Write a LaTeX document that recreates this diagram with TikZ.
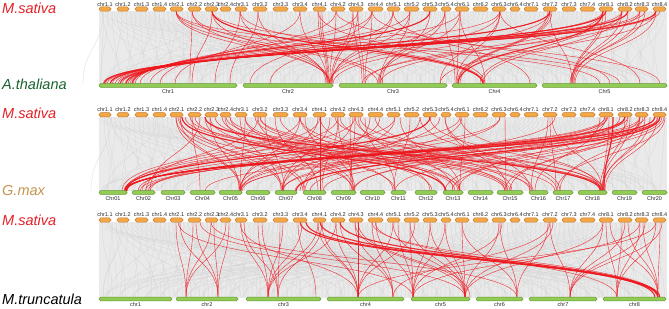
\documentclass[tikz,border=0pt]{standalone}
\usepackage{fontspec}
\setmainfont{Liberation Sans}
\definecolor{msred}{RGB}{228,32,40}
\definecolor{atgreen}{RGB}{28,98,48}
\definecolor{gmtan}{RGB}{196,150,80}
\definecolor{of}{RGB}{243,168,72}
\definecolor{ob}{RGB}{196,120,40}
\definecolor{gf}{RGB}{146,204,84}
\definecolor{gb}{RGB}{100,152,52}
\definecolor{lred}{RGB}{238,24,30}
\definecolor{bgg}{RGB}{234,234,234}
\newcommand\topbars[3]{%
  \foreach \a/\b/\n [count=\k] in {99/111/chr1.1,117/129/chr1.2,135/148/chr1.3,153/166/chr1.4,170/183/chr2.1,188/201/chr2.2,205/218/chr2.3,220/231/chr2.4,235/247/chr3.1,253/267/chr3.2,273/288/chr3.3,293/307/chr3.4,313/326/chr4.1,331/345/chr4.2,349/363/chr4.3,368/383/chr4.4,387/400/chr5.1,404/419/chr5.2,423/437/chr5.3,441/451/chr5.4,455/469/chr6.1,473/488/chr6.2,492/506/chr6.3,510/520/chr6.4,524/538/chr7.1,543/557/chr7.2,562/576/chr7.3,580/595/chr7.4,599/613/chr8.1,618/632/chr8.2,635/648/chr8.3,653/666/chr8.4}{%
    \draw[obar] (\a,#1-2.1) rectangle (\b,#1+2.1);
    \node[clab] (#3\k) at ({(\a+\b)/2},#2) {\n};
  }}
\newcommand\botbars[4]{%
  \foreach \a/\b/\n [count=\k] in {#3}{%
    \draw[gbar] (\a,#1-1.9) rectangle (\b,#1+1.9);
    \node[clab] (#4\k) at ({(\a+\b)/2},#2) {\n};
  }}
\newcommand\greylinks[3]{%
  \fill[bgg] (99,#1) rectangle (667,#2);
  \foreach \i in {0,...,150}{%
    \pgfmathsetmacro\xt{100+mod(\i*3.77+#3,565)}
    \pgfmathsetmacro\xb{100+mod(\i*41.3+#3*7,565)}
    \draw[glink] (\xt,#1) .. controls (\xt,{(#1+#2)/2}) and (\xb,{(#1+#2)/2}) .. (\xb,#2);
  }
  \foreach \i in {0,...,120}{%
    \pgfmathsetmacro\xt{100+mod(\i*4.69+#3,565)}
    \pgfmathsetmacro\xb{100+mod(\i*4.71+#3+mod(\i*13,40)-20,565)}
    \draw[glink] (\xt,#1) .. controls (\xt,{(#1+#2)/2}) and (\xb,{(#1+#2)/2}) .. (\xb,#2);
  }}
\newcommand\redlinks[4]{%
  \foreach \t/\b in {#3}{%
    \draw[#4] (\t,#1) .. controls (\t,{(#1+#2)/2}) and (\b,{(#1+#2)/2}) .. (\b,#2);
  }}
\begin{document}
\begin{tikzpicture}[x=1pt,y=-1pt,
  obar/.style={draw=ob,fill=of,line width=0.5pt,rounded corners=1.9pt},
  gbar/.style={draw=gb,fill=gf,line width=0.5pt,rounded corners=1.7pt},
  clab/.style={font=\fontsize{5.5}{6}\selectfont,text=black!85,inner sep=0pt},
  spl/.style={font=\fontsize{14.5}{16}\selectfont\itshape,anchor=west,inner sep=0pt},
  glink/.style={draw=black!16,line width=0.25pt},
  rlink/.style={draw=lred,line width=0.4pt,opacity=0.9},
  rthick/.style={draw=lred,line width=1.1pt,opacity=0.9}]
\useasboundingbox (0,0) rectangle (669,308);
\fill[white] (0,0) rectangle (669,308);

% ---------------- panel 1 ----------------
\greylinks{11}{84}{3}
\redlinks{11}{84}{656/103,660/105,645/107,640/110,628/112,622/115,606/118,603/122,550/125,500/128,460/130,430/133,410/135,372/140,358/150,336/160,300/175,192/190,212/192,258/230,240/215}{rlink}
\redlinks{11}{84}{656/104,628/110,606/120,550/126,430/132}{rthick}
\redlinks{11}{84}{318/327,320/328,322/329,336/330,353/331,358/332,300/327,258/326,240/328,212/330,192/329,176/330,393/332,410/331,445/330,500/329,550/333,372/250,393/270}{rlink}
\redlinks{11}{84}{353/362,358/364,372/365,410/380,430/382,445/378,460/379,500/440,603/365,622/380,640/362,656/440,176/378,192/383}{rlink}
\redlinks{11}{84}{548/457,550/458,552/460,500/456,460/457,445/455,176/483,212/483,240/484,318/485,393/530,603/480,622/483,460/485}{rlink}
\redlinks{11}{84}{212/483,603/458}{rthick}
\redlinks{11}{84}{603/572,606/573,622/571,628/574,640/572,645/570,656/575,550/572,176/600,212/620,336/660,372/610,500/640}{rlink}
\topbars{9}{4.5}{ta}
\botbars{85.5}{91.5}{99/237/Chr1,243/333/Chr2,339/447/Chr3,452/537/Chr4,542/667/Chr5}{at}
\node[spl,text=msred] (s1) at (2,8) {M.sativa};
\node[spl,text=atgreen] (s2) at (2,84) {A.thaliana};

% ---------------- panel 2 ----------------
\greylinks{117}{191}{11}
\redlinks{117}{191}{655/124,660/125,640/126,625/125,605/127,430/124,395/126,355/125,320/127,300/122}{rlink}
\redlinks{117}{191}{655/125,625/126,430/125}{rthick}
\redlinks{117}{191}{645/140,628/145,608/148,500/150,460/138,338/142,258/146,200/150,192/200,660/205}{rlink}
\redlinks{117}{191}{176/240,180/241,210/239,245/240,300/241,318/240,380/239,440/241,500/240,605/242,658/240}{rlink}
\redlinks{117}{191}{176/282,192/283,240/281,265/284,330/282,353/283,395/282,555/283,625/282,660/295}{rlink}
\redlinks{117}{191}{180/303,205/305,275/318,320/320,338/322,370/303,420/305,462/300,607/310,660/323}{rlink}
\redlinks{117}{191}{178/353,225/352,258/354,305/355,338/353,350/352,355/350,640/353,620/354}{rlink}
\redlinks{117}{191}{210/395,245/393,365/395,410/394,662/395,230/432,300/430}{rlink}
\redlinks{117}{191}{182/445,195/460,222/455,245/458,280/445,320/460,358/453,400/460,465/460,606/458,643/445,664/452}{rlink}
\redlinks{117}{191}{185/505,215/508,255/510,300/505,355/512,445/507,505/506,628/510,640/505}{rlink}
\redlinks{117}{191}{190/532,260/530,340/533,445/530,548/531,600/535,226/555,375/557,420/560,550/556,665/557,640/560}{rlink}
\redlinks{117}{191}{205/600,230/603,260/602,335/604,360/601,430/603,460/600,552/602,609/603,630/602,645/603,657/605,625/600,613/604,650/602}{rlink}
\redlinks{117}{191}{182/446,205/601,660/296,613/604}{rthick}
\topbars{114.7}{109.5}{tb}
\botbars{192.5}{199}{99/127/Chr01,132/155/Chr02,161/185/Chr03,190/215/Chr04,219/242/Chr05,246/270/Chr06,275/297/Chr07,303/326/Chr08,331/356/Chr09,360/385/Chr10,391/406/Chr11,415/437/Chr12,443/463/Chr13,468/493/Chr14,497/523/Chr15,529/548/Chr16,553/573/Chr17,578/607/Chr18,612/637/Chr19,642/667/Chr20}{gm}
\node[spl,text=msred] (s3) at (2,113) {M.sativa};
\node[spl,text=gmtan] (s4) at (2,191) {G.max};

% ---------------- panel 3 ----------------
\greylinks{222}{297.5}{23}
\redlinks{222}{297.5}{176/186,180/218,193/186,196/218,211/186,214/218,226/186,229/218,178/413,200/465,211/517}{rlink}
\redlinks{222}{297.5}{241/268,244/278,258/268,262/278,280/278,283/268,298/316,302/268,318/268,322/278,336/268,240/358}{rlink}
\redlinks{222}{297.5}{318/358,322/358,336/358,340/393,355/393,358/358,372/393,376/413,393/358,398/413,410/413,415/358,430/413,445/413,355/465,358/470,375/617,372/658}{rlink}
\redlinks{222}{297.5}{393/465,410/465,430/465,445/465,462/465,462/517,500/517,499/465,502/413,550/570,548/517,553/465,550/393}{rlink}
\redlinks{222}{297.5}{603/570,606/617,610/658,622/617,625/570,628/658,640/617,643/658,645/570,656/617,660/658,662/570,603/465,640/413,656/358}{rlink}
\redlinks{222}{297.5}{300/658,306/660,320/655,340/658}{rthick}
\topbars{220}{214.5}{tc}
\botbars{299}{305}{99/172/chr1,176/238/chr2,246/321/chr3,327/404/chr4,411/470/chr5,476/523/chr6,529/597/chr7,603/666/chr8}{mt}
\node[spl,text=msred] (s5) at (2,220) {M.sativa};
\node[spl,text=black] (s6) at (2,299) {M.truncatula};
\end{tikzpicture}
\end{document}
